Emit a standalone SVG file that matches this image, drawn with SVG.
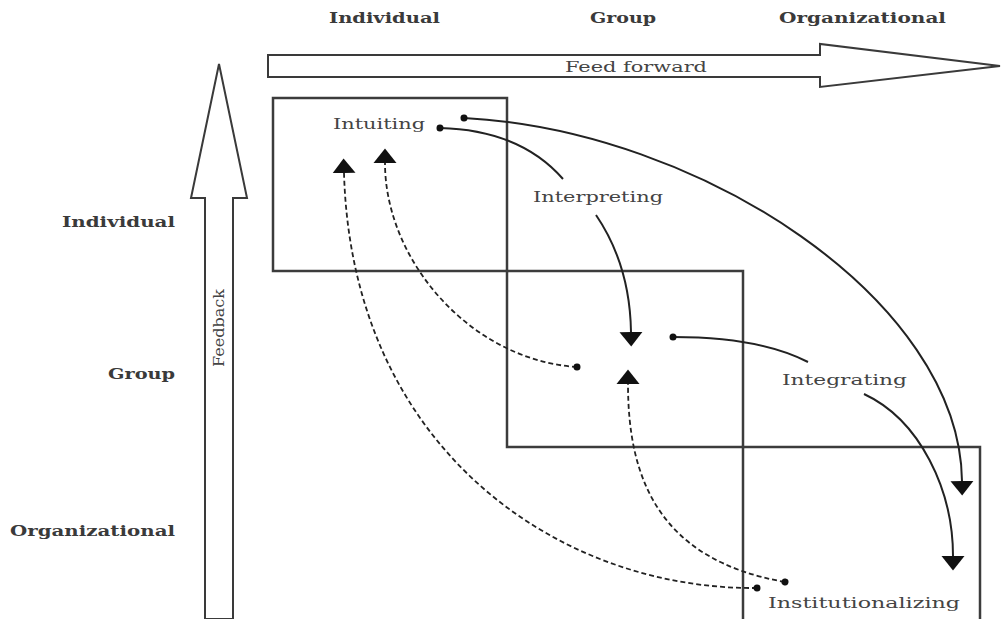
<svg xmlns="http://www.w3.org/2000/svg" width="1002" height="619" viewBox="0 0 1002 619">
  <style>
    .lvl { font-family: "DejaVu Serif", "Liberation Serif", serif; font-weight: bold; font-size: 14px; fill: #3a3a3a; }
    .proc { font-family: "DejaVu Serif", "Liberation Serif", serif; font-size: 15px; fill: #444; }
    .box { fill: none; stroke: #3c3c3c; stroke-width: 2.5; }
    .big { fill: #fff; stroke: #3a3a3a; stroke-width: 2; stroke-linejoin: miter; }
    .solid { fill: none; stroke: #222; stroke-width: 2; marker-start: url(#dot); marker-end: url(#ah); }
    .dash { fill: none; stroke: #222; stroke-width: 1.8; stroke-dasharray: 5 3; marker-start: url(#dot); marker-end: url(#ah); }
  </style>
  <defs>
    <marker id="ah" markerUnits="userSpaceOnUse" markerWidth="16" markerHeight="26" viewBox="0 -13 16 26" refX="0" refY="0" orient="auto">
      <path d="M0,-11.5 L14.5,0 L0,11.5 Z" fill="#111"/>
    </marker>
    <marker id="dot" markerUnits="userSpaceOnUse" markerWidth="8" markerHeight="8" viewBox="-4 -4 8 8" refX="0" refY="0" orient="auto">
      <circle cx="0" cy="0" r="3.5" fill="#111"/>
    </marker>
  </defs>

  <rect width="1002" height="619" fill="#fff"/>

  <g id="axis-labels">
    <text class="lvl" x="329" y="23" textLength="111" lengthAdjust="spacingAndGlyphs">Individual</text>
    <text class="lvl" x="590" y="23" textLength="66" lengthAdjust="spacingAndGlyphs">Group</text>
    <text class="lvl" x="779" y="23" textLength="167" lengthAdjust="spacingAndGlyphs">Organizational</text>
    <text class="lvl" x="62" y="227" textLength="113" lengthAdjust="spacingAndGlyphs">Individual</text>
    <text class="lvl" x="108" y="379" textLength="67" lengthAdjust="spacingAndGlyphs">Group</text>
    <text class="lvl" x="10" y="536" textLength="165" lengthAdjust="spacingAndGlyphs">Organizational</text>
  </g>

  <g id="feed-forward">
    <polygon class="big" points="268,55 820,55 820,44 1000,66 820,87 820,77 268,77"/>
    <text class="proc" x="636" y="72" text-anchor="middle" textLength="142" lengthAdjust="spacingAndGlyphs">Feed forward</text>
  </g>

  <g id="feedback">
    <polygon class="big" points="205,619 205,198 191,198 219,64 247,198 233,198 233,619"/>
    <text class="proc" font-size="13" transform="translate(224,328) rotate(-90)" text-anchor="middle" textLength="78" lengthAdjust="spacingAndGlyphs">Feedback</text>
  </g>

  <g id="node-individual">
    <rect class="box" x="273" y="98" width="234" height="173"/>
  </g>
  <g id="node-group">
    <rect class="box" x="507" y="271" width="236" height="176"/>
  </g>
  <g id="node-organizational">
    <rect class="box" x="743" y="447" width="237" height="180"/>
  </g>

  <g id="node-intuiting">
    <text class="proc" x="333" y="129" textLength="92" lengthAdjust="spacingAndGlyphs">Intuiting</text>
  </g>
  <g id="node-interpreting">
    <text class="proc" x="533" y="202" textLength="130" lengthAdjust="spacingAndGlyphs">Interpreting</text>
  </g>
  <g id="node-integrating">
    <text class="proc" x="782" y="385" textLength="125" lengthAdjust="spacingAndGlyphs">Integrating</text>
  </g>
  <g id="node-institutionalizing">
    <text class="proc" x="768" y="608" textLength="192" lengthAdjust="spacingAndGlyphs">Institutionalizing</text>
  </g>

  <g id="connectors">
    <path class="solid" style="marker-end:none" d="M440,128 Q520,130 563,179"/>
    <path class="solid" d="M464,118 C700,130 960,300 962,481"/>
    <path class="solid" style="marker-start:none" d="M596,215 Q630,265 631,332"/>
    <path class="solid" style="marker-end:none" d="M673,337 Q760,337 808,362"/>
    <path class="solid" style="marker-start:none" d="M864,394 C920,420 953,490 953,556"/>
    <path class="dash" d="M577,367 C470,360 385,260 385,163"/>
    <path class="dash" d="M757,588 C560,590 352,450 344,173"/>
    <path class="dash" d="M785,582 C660,560 628,480 628,384"/>
  </g>
</svg>
